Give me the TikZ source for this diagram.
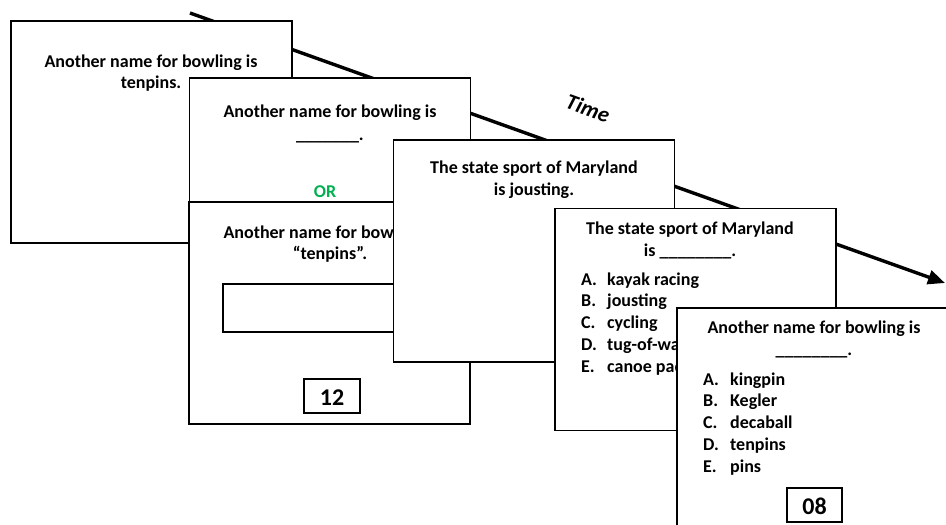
\documentclass[tikz,border=0pt]{standalone}
\usepackage{fontspec}
\setmainfont{Carlito}
\usetikzlibrary{arrows.meta}
\definecolor{orgreen}{HTML}{00B050}
\begin{document}
\begin{tikzpicture}[x=1pt,y=-1pt,
  card/.style={draw=black, line width=1.2pt, fill=white, inner sep=0pt,
    minimum width=281pt, minimum height=222pt},
  box/.style={draw=black, line width=1.2pt, fill=white, inner sep=0pt},
  txt/.style={font=\fontsize{18}{21}\selectfont\bfseries, anchor=base, inner sep=0pt},
  opt/.style={txt, anchor=base west},
  big/.style={font=\fontsize{24}{28}\selectfont\bfseries, anchor=base, inner sep=0pt}]
\useasboundingbox (0,0) rectangle (946,525);
\clip (0,0) rectangle (946,525);

% time axis running behind the cards
\coordinate (t0) at (190,13);
\coordinate (t1) at (945,283);
\draw[line width=3.4pt, -{Triangle[length=17pt,width=14pt]}] (t0) -- (t1);
\node[font=\fontsize{22}{26}\selectfont\bfseries\itshape, rotate=-20, inner sep=0pt] (time) at (588,108) {Time};

% study card
\node[card] (c1) at (151.5,132) {};
\node[txt] (c1a) at (151,67) {Another name for bowling is};
\node[txt] (c1b) at (151,88) {tenpins.};

% cued recall card
\node[card, minimum height=182pt] (c2) at (330,169) {};
\node[txt] (c2a) at (330,117) {Another name for bowling is};
\node[txt] (c2b) at (330,140) {\_\_\_\_\_\_\_.};
\node[txt, text=orgreen] (or) at (325,197) {OR};

% typed recall card
\node[card] (c2x) at (329.5,313) {};
\node[txt] (c2xa) at (330,238) {Another name for bowling is};
\node[txt] (c2xb) at (330,259) {“tenpins”.};
\node[box, minimum width=214pt, minimum height=48pt] (input) at (330,308) {};
\node[box, minimum width=56pt, minimum height=34pt] (t12) at (332,396) {};
\node[big] (n12) at (332,405) {12};

% second study card
\node[card] (c3) at (534,251) {};
\node[txt] (c3a) at (534,173) {The state sport of Maryland};
\node[txt] (c3b) at (534,195) {is jousting.};

% multiple choice card
\node[card] (c4) at (695.5,319.5) {};
\node[txt] (c4a) at (690,234) {The state sport of Maryland};
\node[txt] (c4b) at (690,256) {is \_\_\_\_\_\_\_\_.};
\foreach \l/\w [count=\i] in {A/kayak racing, B/jousting, C/cycling, D/tug-of-war, E/canoe paddling}{
  \node[opt] (c4l\i) at (581,263.5+21.7*\i) {\l.};
  \node[opt] (c4o\i) at (607,263.5+21.7*\i) {\w};
}

% final test card
\node[card] (c5) at (817.5,419) {};
\node[txt] (c5a) at (814,333) {Another name for bowling is};
\node[txt] (c5b) at (814,355) {\_\_\_\_\_\_\_\_.};
\foreach \l/\w [count=\i] in {A/kingpin, B/Kegler, C/decaball, D/tenpins, E/pins}{
  \node[opt] (c5l\i) at (703,363.5+21.7*\i) {\l.};
  \node[opt] (c5o\i) at (730,363.5+21.7*\i) {\w};
}
\node[box, minimum width=55pt, minimum height=34pt] (t08) at (814.5,505) {};
\node[big] (n08) at (814.5,514) {08};
\end{tikzpicture}
\end{document}
